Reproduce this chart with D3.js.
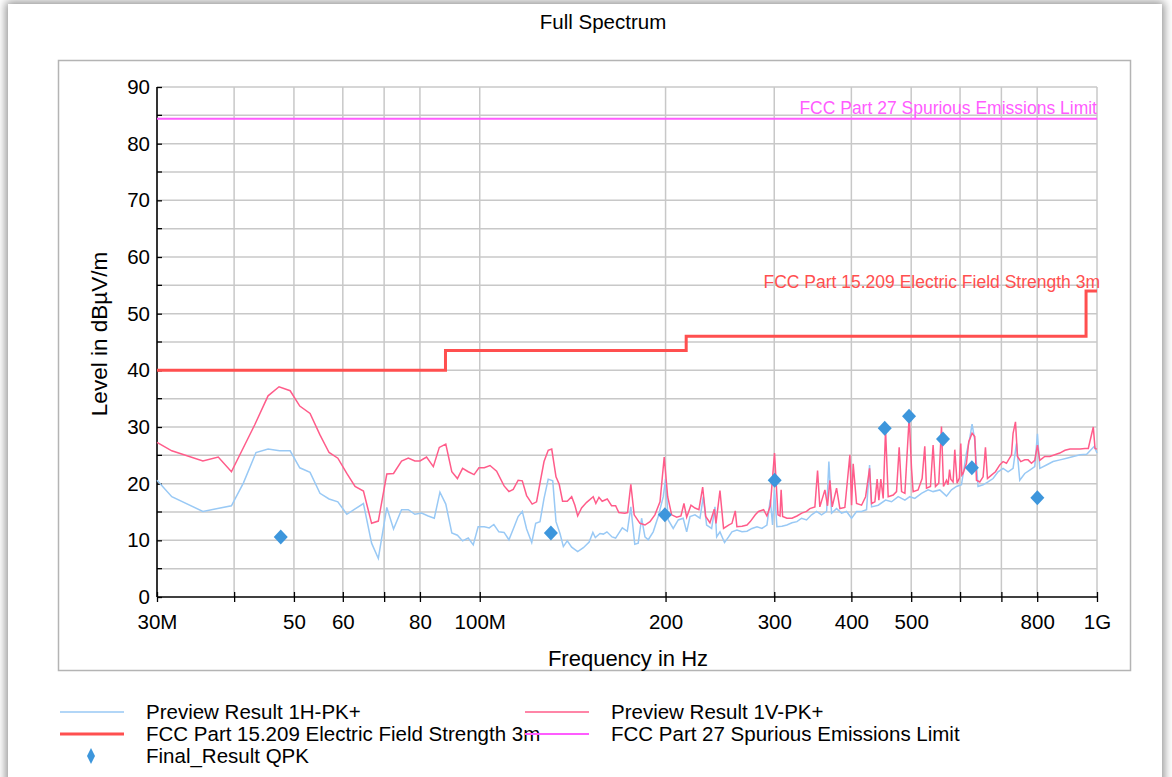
<!DOCTYPE html>
<html>
<head>
<meta charset="utf-8">
<script src="https://cdn.jsdelivr.net/npm/d3@7"></script>
<style>
  body { margin: 0; background: #fff; overflow: hidden; }
  #card { position: absolute; left: 8px; top: 4px; width: 1154px; height: 820px; background: #fff;
          box-shadow: 0 0 9px 2px rgba(0,0,0,0.45); }
  #chart { position: absolute; left: 0; top: 0; }
  text { font-family: "Liberation Sans", Arial, sans-serif; }
</style>
</head>
<body>
<div id="card"></div>
<svg id="chart"></svg>
<script>
// frequencies in MHz, levels in dBuV/m
var previewH = [
  [30,20.6],[31.7,17.7],[35.6,15.1],[39.6,16.1],[41.4,20.1],[43.4,25.5],[45.4,26.1],[47.4,25.8],[49.3,25.8],
  [51.1,22.8],[53.1,22.0],[55.1,18.3],[57.0,17.3],[58.9,16.8],[60.9,14.6],[64.8,16.5],[66.8,9.5],[68.5,6.8],
  [70.7,15.8],[72.5,12.0],[74.7,15.4],[76.6,15.4],[78.5,14.6],[80.5,14.8],[82.5,14.3],[84.4,13.9],[86.2,18.5],
  [88.1,16.4],[90.1,11.3],[92.0,10.9],[93.8,9.9],[95.8,10.4],[97.6,9.2],[99.4,12.4],[101.7,12.4],[103.6,12.2],
  [105.4,12.8],[107.4,11.5],[109.5,11.4],[111.5,10.1],[113.7,12.4],[115.4,14.2],[117.2,15.1],[119.1,12.0],
  [121.4,9.6],[123.2,13.0],[125.2,13.3],[127.1,17.4],[129.1,20.8],[131.3,20.5],[132.9,13.3],[134.9,11.2],
  [136.6,8.9],[138.6,9.9],[140.9,8.8],[144.1,8.0],[147.2,8.7],[150.4,9.7],[152.5,11.4],[153.9,10.5],[156.6,11.2],
  [158.6,11.1],[160.7,11.5],[163.8,10.6],[166.0,10.4],[170.2,12.2],[173.4,11.6],[175.7,15.9],[178.3,9.3],
  [180.6,9.5],[182.9,13.9],[185.2,10.6],[187.5,10.1],[191.0,11.5],[194.6,14.2],[198.3,17.7],[200.0,20.8],
  [202.0,13.6],[205.8,12.1],[209.7,13.6],[213.6,13.9],[216.4,11.5],[219.1,14.2],[223.2,14.5],[227.4,13.9],
  [230.2,17.7],[233.1,12.7],[237.5,12.1],[240.5,15.9],[242.0,10.6],[245.0,11.5],[249.2,9.6],[253.0,10.6],
  [256.2,11.5],[261.0,11.8],[266.0,11.5],[271.0,11.6],[276.1,12.1],[281.3,12.4],[286.5,12.1],[291.9,12.7],
  [295.6,17.2],[298.1,12.7],[300.3,18.9],[303.0,12.4],[308.7,12.5],[314.5,12.7],[320.5,13.1],[326.5,13.3],
  [332.2,13.9],[338.4,13.6],[344.8,14.5],[351.3,15.1],[357.9,14.5],[364.7,15.1],[367.8,23.9],[371.5,14.8],
  [378.5,15.6],[385.6,14.8],[392.9,15.1],[400.3,13.9],[407.8,15.1],[415.5,15.1],[423.3,15.4],[428.1,23.3],
  [431.3,15.9],[442.1,16.2],[454.4,17.1],[464.7,16.8],[476.3,17.7],[488.4,17.1],[497.5,17.7],[506.8,17.4],
  [519.6,18.3],[532.5,18.9],[542.6,18.6],[556.3,18.9],[570.4,17.8],[581.1,18.9],[592.0,19.5],[603.1,19.8],
  [614.5,25.4],[622.1,28.0],[627.5,30.5],[633.8,27.7],[641.6,19.5],[653.8,19.8],[666.0,20.3],[678.6,20.9],
  [691.3,22.1],[704.4,22.7],[717.7,22.1],[731.2,22.7],[740.5,27.1],[749.7,20.6],[763.8,21.8],[778.2,22.4],
  [792.8,23.0],[800.8,28.8],[807.8,22.7],[828.2,23.3],[848.9,23.9],[871.1,24.2],[893.1,24.5],[915.4,24.8],
  [938.6,25.1],[962.3,25.2],[990.0,26.6],[1000,25.4]
];

var previewV = [
  [30,27.3],[31.7,25.8],[35.6,24.0],[37.7,24.7],[39.6,22.1],[43.2,30.4],[45.4,35.5],[47.3,37.1],[49.3,36.4],
  [51.1,33.7],[53.1,32.4],[55.1,28.6],[57.0,25.5],[58.9,24.5],[60.9,21.8],[62.8,19.5],[64.8,18.7],[66.8,13.0],
  [68.5,13.4],[70.7,21.7],[72.5,21.8],[74.7,24.0],[76.6,24.5],[78.5,24.0],[80.0,24.0],[82.0,24.7],[84.1,23.0],
  [86.0,26.4],[88.1,27.0],[90.1,22.1],[92.0,20.9],[93.8,22.7],[95.8,22.1],[97.9,21.6],[99.7,22.8],[101.7,22.8],
  [103.9,23.2],[106.5,22.2],[109.5,19.6],[111.5,18.6],[113.3,19.0],[115.4,20.6],[117.2,20.5],[119.1,17.9],
  [121.6,16.4],[123.6,16.8],[125.2,20.1],[127.1,23.9],[129.1,25.9],[130.8,26.1],[132.9,21.2],[134.5,19.9],
  [136.2,16.9],[138.6,16.9],[140.9,17.7],[142.6,16.2],[144.1,14.3],[146.2,15.7],[149.0,16.7],[152.7,17.7],
  [154.2,16.5],[156.0,17.6],[157.9,16.9],[160.9,17.3],[163.5,16.1],[166.0,16.1],[168.0,14.9],[171.8,14.8],
  [173.6,14.9],[175.7,19.9],[177.9,14.5],[181.8,13.0],[185.2,12.7],[188.7,13.3],[192.2,14.5],[195.9,16.8],
  [199.0,24.7],[201.6,17.7],[204.6,14.5],[208.5,14.1],[211.8,14.3],[214.2,16.5],[216.4,14.1],[219.9,16.2],
  [223.2,15.7],[226.5,15.4],[229.7,19.4],[232.3,14.2],[236.0,13.1],[239.9,15.5],[241.4,13.0],[245.0,18.8],
  [248.3,12.1],[253.0,12.7],[256.2,13.0],[259.4,15.2],[261.0,12.4],[266.0,12.5],[271.0,12.7],[274.3,13.3],
  [279.5,14.5],[282.9,15.1],[288.3,15.4],[291.9,14.3],[295.6,16.1],[300.3,25.4],[304.2,14.5],[306.5,14.3],
  [307.8,18.9],[309.5,14.2],[314.5,13.9],[320.5,13.9],[326.5,14.3],[332.4,14.8],[338.4,15.1],[342.6,15.6],
  [349.1,15.9],[352.6,22.3],[355.6,15.9],[362.4,18.9],[366.0,16.1],[369.2,20.6],[372.4,15.9],[378.5,19.2],
  [383.2,15.6],[390.4,15.8],[397.8,25.1],[400.3,16.2],[402.7,23.5],[407.8,16.5],[415.5,16.2],[421.8,17.7],
  [428.1,22.7],[431.3,16.5],[436.7,16.8],[440.4,20.8],[443.2,17.1],[446.5,20.8],[450.4,17.4],[454.4,29.5],
  [458.9,17.7],[467.5,18.0],[473.4,18.6],[478.1,26.4],[482.4,18.6],[488.4,18.3],[496.3,31.8],[500.6,22.7],
  [503.6,18.6],[513.0,18.9],[520.8,20.9],[526.0,26.6],[529.4,19.2],[537.3,19.5],[542.6,26.8],[547.4,19.5],
  [554.2,20.1],[559.8,30.1],[564.0,19.5],[570.4,20.6],[573.8,19.8],[577.0,22.5],[579.6,20.8],[584.6,20.3],
  [588.3,26.0],[593.4,20.1],[598.5,21.0],[601.6,27.1],[604.0,21.5],[606.8,21.8],[614.5,23.6],[619.8,27.4],
  [627.5,28.9],[633.8,28.3],[637.9,20.6],[645.8,20.3],[653.8,21.2],[659.6,26.4],[664.6,20.9],[674.5,21.5],
  [684.7,22.1],[695.8,23.3],[704.4,23.9],[713.4,23.6],[726.9,25.1],[731.2,28.9],[737.8,30.9],[743.3,24.8],
  [752.6,23.9],[763.8,24.2],[773.3,24.2],[783.1,23.6],[792.8,24.1],[800.8,26.8],[807.8,24.1],[823.0,24.8],
  [838.5,24.8],[854.3,25.1],[870.3,25.4],[887.5,25.9],[904.2,26.1],[921.2,26.1],[938.6,26.1],[956.2,26.2],
  [968.0,26.2],[986.3,30.0],[992.6,26.2],[1000,26.1]
];

var finalQPK = [
  [47.6,10.6],[130.4,11.3],[199.5,14.5],[300.5,20.6],[453,29.8],[496,31.9],[563,27.9],[627,22.8],[800.5,17.5]
];

// limit lines (MHz, dBuV/m)
var limit15209 = [[30,40],[88,40],[88,43.5],[216,43.5],[216,46],[960,46],[960,54],[1000,54]];
var limit27 = [[30,84.4],[1000,84.4]];

var xTickValues = [30,40,50,60,70,80,100,200,300,400,500,600,700,800,1000];
var xTickLabels = {30:"30M",50:"50",60:"60",80:"80",100:"100M",200:"200",300:"300",400:"400",500:"500",800:"800",1000:"1G"};
var xGridValues = [40,50,60,70,80,100,200,300,400,500,600,700,800,1000];
var yTickValues = [0,10,20,30,40,50,60,70,80,90];
var yGridValues = [5,10,15,20,25,30,35,40,45,50,55,60,65,70,75,80,85,90];

var legendNames = ["Preview Result 1H-PK+","Preview Result 1V-PK+",
  "FCC Part 15.209 Electric Field Strength 3m","FCC Part 27 Spurious Emissions Limit","Final_Result QPK"];

var W = 1172, H = 777;
var svg = d3.select('#chart').attr('width', W).attr('height', H);

var x = d3.scaleLog().domain([30, 1000]).range([157, 1097]);
var y = d3.scaleLinear().domain([0, 90]).range([597, 87]);

var blue = '#99c9f5', pink = '#ff5c8a', red = '#ff4f4f', magenta = '#ff5cff', dia = '#3d96dc';

// outer frame
svg.append('rect').attr('x', 58.5).attr('y', 60.5).attr('width', 1072).attr('height', 610)
  .attr('fill', 'none').attr('stroke', '#b4b4b4').attr('stroke-width', 1.5);

// grid
svg.append('g').selectAll('line').data(xGridValues).enter().append('line')
  .attr('x1', function (d) { return x(d); }).attr('x2', function (d) { return x(d); })
  .attr('y1', y(90)).attr('y2', y(0))
  .attr('stroke', '#c8c8c8').attr('stroke-width', 1.5);
svg.append('g').selectAll('line').data(yGridValues).enter().append('line')
  .attr('x1', x(30)).attr('x2', x(1000))
  .attr('y1', function (d) { return y(d); }).attr('y2', function (d) { return y(d); })
  .attr('stroke', '#c8c8c8').attr('stroke-width', 1.5);

// axes
var xAxis = d3.axisBottom(x).tickValues(xTickValues)
  .tickFormat(function (d) { return xTickLabels[d] || ''; }).tickSize(5).tickPadding(12);
var gx = svg.append('g').attr('transform', 'translate(0,' + y(0) + ')').call(xAxis);
gx.selectAll('.tick line').attr('y1', -5).attr('stroke', '#000').attr('stroke-width', 1.3);
gx.select('.domain').attr('stroke', '#000').attr('stroke-width', 1.6).attr('d', 'M' + x(30) + ',0H' + x(1000));
gx.selectAll('text').attr('font-size', 20.5).attr('fill', '#000');

var yAxis = d3.axisLeft(y).tickValues(yTickValues).tickSize(5).tickPadding(2);
var gy = svg.append('g').attr('transform', 'translate(' + x(30) + ',0)').call(yAxis);
gy.selectAll('.tick line').attr('x2', 5).attr('stroke', '#000').attr('stroke-width', 1.3);
gy.select('.domain').attr('stroke', '#000').attr('stroke-width', 1.6).attr('d', 'M0,' + y(0) + 'V' + y(90));
gy.selectAll('text').attr('font-size', 20.5).attr('fill', '#000');
gy.selectAll('.minor').data([5,15,25,35,45,55,65,75,85]).enter().append('line')
  .attr('x1', 0).attr('x2', 5)
  .attr('y1', function (d) { return y(d); }).attr('y2', function (d) { return y(d); })
  .attr('stroke', '#000').attr('stroke-width', 1.3);

// traces
var line = d3.line()
  .x(function (d) { return x(d[0]); })
  .y(function (d) { return y(d[1]); });

svg.append('path').datum(previewH).attr('d', line)
  .attr('fill', 'none').attr('stroke', blue).attr('stroke-width', 1.5);
svg.append('path').datum(previewV).attr('d', line)
  .attr('fill', 'none').attr('stroke', pink).attr('stroke-width', 1.5);
svg.append('path').datum(limit15209).attr('d', line)
  .attr('fill', 'none').attr('stroke', red).attr('stroke-width', 3);
svg.append('path').datum(limit27).attr('d', line)
  .attr('fill', 'none').attr('stroke', magenta).attr('stroke-width', 2);

// limit labels
svg.append('text').attr('x', x(1000)).attr('y', y(84.4) - 5).attr('text-anchor', 'end')
  .attr('font-size', 17.5).attr('fill', magenta).text(legendNames[3]);
svg.append('text').attr('x', x(1000) + 3).attr('y', y(54) - 3).attr('text-anchor', 'end')
  .attr('font-size', 17.5).attr('fill', red).text(legendNames[2]);

// final results
var diamond = 'M0,-7.5L7,0L0,7.5L-7,0Z';
svg.append('g').selectAll('path').data(finalQPK).enter().append('path')
  .attr('d', diamond)
  .attr('transform', function (d) { return 'translate(' + x(d[0]) + ',' + y(d[1]) + ')'; })
  .attr('fill', dia);

// titles
svg.append('text').attr('x', 603).attr('y', 29).attr('text-anchor', 'middle')
  .attr('font-size', 20.5).text('Full Spectrum');
svg.append('text').attr('x', 628).attr('y', 666).attr('text-anchor', 'middle')
  .attr('font-size', 22).text('Frequency in Hz');
svg.append('text').attr('transform', 'translate(107,334) rotate(-90)').attr('text-anchor', 'middle')
  .attr('font-size', 22.5).text('Level in dBµV/m');

// legend
var legend = [
  { name: legendNames[0], col: 0, row: 0, color: blue, w: 1.5 },
  { name: legendNames[1], col: 1, row: 0, color: pink, w: 1.5 },
  { name: legendNames[2], col: 0, row: 1, color: red, w: 3 },
  { name: legendNames[3], col: 1, row: 1, color: magenta, w: 2 },
  { name: legendNames[4], col: 0, row: 2, color: dia, sym: true }
];
var colX = [60, 525], rowY = [712, 734, 756];
var lg = svg.append('g').selectAll('g').data(legend).enter().append('g')
  .attr('transform', function (d) { return 'translate(' + colX[d.col] + ',' + rowY[d.row] + ')'; });
lg.filter(function (d) { return !d.sym; }).append('line')
  .attr('x1', 0).attr('x2', 64).attr('y1', 0).attr('y2', 0)
  .attr('stroke', function (d) { return d.color; }).attr('stroke-width', function (d) { return d.w; });
lg.filter(function (d) { return d.sym; }).append('path')
  .attr('d', 'M31,-8L35,0L31,8L27,0Z').attr('fill', dia);
lg.append('text').attr('x', 86).attr('y', 7).attr('font-size', 20.5).text(function (d) { return d.name; });
</script>
</body>
</html>
